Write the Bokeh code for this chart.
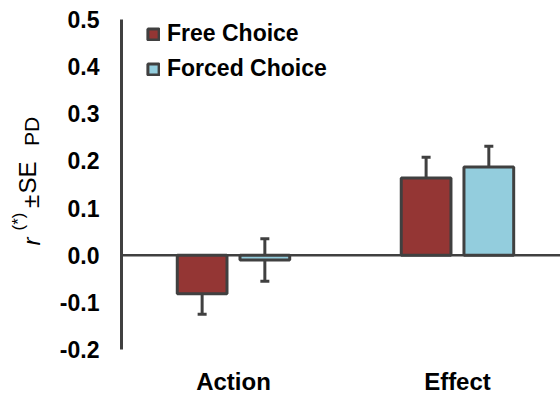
import math
from bokeh.plotting import figure
from bokeh.layouts import row
from bokeh.models import (ColumnDataSource, Range1d, FixedTicker, PrintfTickFormatter,
                          Whisker, TeeHead, Span, Label)
from bokeh.embed import file_html
from bokeh.resources import INLINE

# ---- data ----
categories = ["Action", "Effect"]
series_names = ["Free Choice", "Forced Choice"]
free_vals = [-0.082, 0.164]
free_se = [0.043, 0.044]
forced_vals = [-0.010, 0.187]
forced_se = [0.045, 0.044]
y_ticks = [-0.2, -0.1, 0.0, 0.1, 0.2, 0.3, 0.4, 0.5]

FONT = "Liberation Sans"
DARK = "#404040"
colors = ["#943634", "#93CDDD"]
offsets = [-0.14, 0.14]
bar_w = 0.222
LBL_W = 55
H = 395
TOP, FH, BOT = 19, 330, 46

p = figure(frame_width=439, frame_height=FH, output_backend="svg", toolbar_location=None,
           x_range=Range1d(0, 1.96), y_range=Range1d(-0.2, 0.5), title=None,
           min_border_left=121 - LBL_W, min_border_right=0, min_border_top=TOP, min_border_bottom=BOT)
p.outline_line_color = None
p.xgrid.visible = False
p.ygrid.visible = False
p.background_fill_color = "white"
p.border_fill_color = "white"

# zero line
p.add_layout(Span(location=0, dimension="width", line_color=DARK, line_width=2.5, level="underlay"))

centers = [i + 0.5 for i in range(len(categories))]
for vals, ses, name, col, off in zip([free_vals, forced_vals], [free_se, forced_se],
                                     series_names, colors, offsets):
    xs = [c + off for c in centers]
    src = ColumnDataSource(dict(x=xs, top=vals,
                                upper=[v + s for v, s in zip(vals, ses)],
                                lower=[v - s for v, s in zip(vals, ses)]))
    p.vbar(x="x", top="top", bottom=0, width=bar_w, source=src, fill_color=col,
           line_color=DARK, line_width=3, legend_label=name)
    w = Whisker(base="x", upper="upper", lower="lower", source=src, dimension="height",
                line_color=DARK, line_width=3,
                upper_head=TeeHead(size=9, line_color=DARK, line_width=3),
                lower_head=TeeHead(size=9, line_color=DARK, line_width=3))
    p.add_layout(w)

# axes
xa = p.xaxis[0]
xa.ticker = FixedTicker(ticks=centers)
xa.major_label_overrides = {c: cat for c, cat in zip(centers, categories)}
xa.axis_line_color = None
xa.major_tick_line_color = None
xa.minor_tick_line_color = None
xa.major_label_standoff = 12
xa.major_label_text_font = FONT
xa.major_label_text_font_size = "24px"
xa.major_label_text_font_style = "bold"
xa.major_label_text_color = "black"

ya = p.yaxis[0]
ya.ticker = FixedTicker(ticks=y_ticks)
ya.formatter = PrintfTickFormatter(format="%.1f")
ya.axis_line_color = DARK
ya.axis_line_width = 3
ya.major_tick_line_color = None
ya.minor_tick_line_color = None
ya.major_label_standoff = 16
ya.major_label_text_font = FONT
ya.major_label_text_font_size = "23px"
ya.major_label_text_font_style = "bold"
ya.major_label_text_color = "black"

# legend
lg = p.legend[0]
lg.location = (25, 267)
lg.padding = 0
lg.margin = 0
lg.spacing = 8
lg.border_line_color = None
lg.background_fill_alpha = 0
lg.glyph_width = 14
lg.glyph_height = 14
lg.label_height = 25
lg.label_standoff = 7
lg.label_text_font = FONT
lg.label_text_font_size = "23px"
lg.label_text_font_style = "bold"
lg.label_text_color = "black"

# separate narrow figure holding the rotated, composed y-axis title;
# its frame matches the main frame vertically, y measured from page bottom
q = figure(frame_width=LBL_W, frame_height=FH, output_backend="svg", toolbar_location=None,
           x_range=Range1d(0, LBL_W), y_range=Range1d(BOT, H - TOP), title=None,
           min_border_left=0, min_border_right=0, min_border_top=TOP, min_border_bottom=BOT,
           x_axis_location=None, y_axis_location=None)
q.outline_line_color = None
q.xgrid.visible = False
q.ygrid.visible = False
q.border_fill_color = "white"
q.background_fill_color = "white"

# (text, centre x, centre y from top, size, style)
pieces = [
    ("r", 31, 241, "24px", "italic"),
    ("(*)", 18, 221, "17px", "normal"),
    ("\u00b1", 30, 201, "24px", "normal"),
    ("SE", 27, 177, "24px", "normal"),
    ("PD", 31, 131, "21px", "normal"),
]
for txt, cx, cy, fs, st in pieces:
    q.add_layout(Label(x=cx, y=H - cy, text=txt, angle=math.pi / 2,
                       text_align="center", text_baseline="middle", text_font=FONT,
                       text_font_size=fs, text_font_style=st, text_color="black"))

layout = row(q, p, spacing=0)
open("out.html", "w").write(file_html(layout, INLINE))
